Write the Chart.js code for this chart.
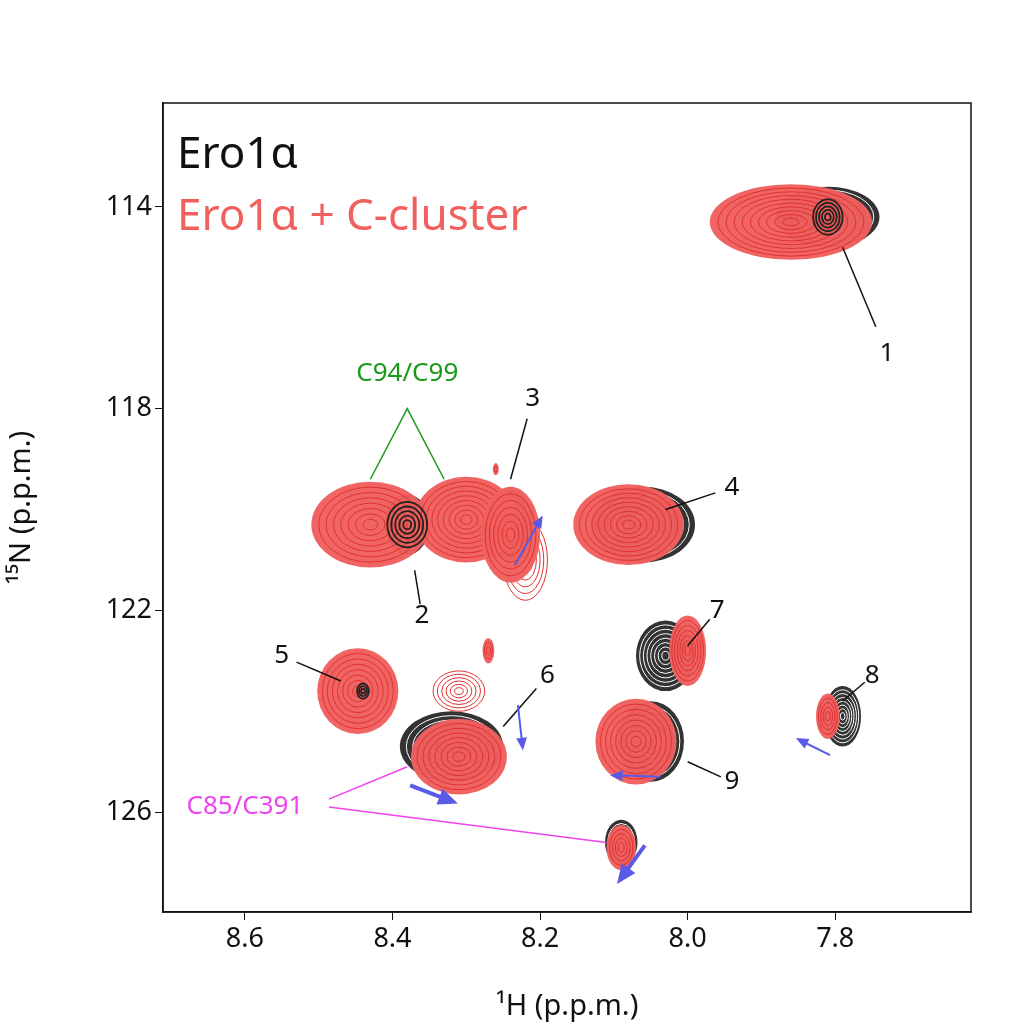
<!DOCTYPE html>
<html><head><meta charset="utf-8">
<script src="https://cdn.jsdelivr.net/npm/chart.js@4"></script>
<style>html,body{margin:0;background:#fff}#w{width:1024px;height:1028px}</style>
</head><body><div id="w"><canvas id="c"></canvas></div>
<script>
const xTicks=[8.6,8.4,8.2,8.0,7.8];
const yTicks=[114,118,122,126];
// black (Ero1a) peaks: [H, N, rH, rN, rings]
const blackPeaks=[[7.81,114.2,0.07,0.6,9],[8.38,120.3,0.03,0.6,6],[8.24,120.3,0.03,0.7,8],[8.06,120.3,0.07,0.75,9],[8.32,124.7,0.07,0.7,8],[8.03,122.9,0.04,0.7,8],[7.79,124.1,0.025,0.6,8],[8.05,124.6,0.045,0.8,8],[8.09,126.6,0.022,0.45,6]];
// red (Ero1a + C-cluster) peaks
const redPeaks=[[7.86,114.3,0.11,0.75,10],[8.43,120.3,0.08,0.85,8],[8.3,120.2,0.07,0.85,9],[8.24,120.5,0.04,0.95,7],[8.08,120.3,0.075,0.8,9],[8.447,123.6,0.055,0.85,8],[8.31,124.9,0.065,0.75,8],[8.0,122.8,0.025,0.7,7],[7.81,124.1,0.016,0.45,5],[8.07,124.6,0.055,0.85,8],[8.09,126.7,0.02,0.45,5],[8.27,122.8,0.008,0.25,3],[8.26,119.2,0.004,0.12,2]];
// red outline-only peaks
const redOutline=[[8.31,123.6,0.035,0.4,6],[8.22,121.0,0.03,0.8,6]];
const peakLabels=[["1",7.73,116.9,7.79,114.8],["2",8.36,122.1,8.37,121.2],["3",8.21,117.8,8.24,119.4],["4",7.94,119.56,8.03,120.0],["5",8.55,122.9,8.47,123.4],["6",8.19,123.3,8.25,124.3],["7",7.96,122.0,8.0,122.7],["8",7.75,123.3,7.79,123.8],["9",7.94,125.4,8.0,125.0]];
const arrows=[[8.234,121.1,8.2,120.21],[8.23,123.88,8.224,124.67],[8.376,125.47,8.322,125.77],[8.037,125.3,8.098,125.27],[7.807,124.87,7.847,124.58],[8.058,126.66,8.089,127.29]];
const extra={id:'extra',afterDatasetsDraw(ch){
 const c=ch.ctx,x=ch.scales.x,y=ch.scales.y,a=ch.chartArea;
 c.save();c.beginPath();c.rect(a.left,a.top,a.width,a.height);c.clip();
 const ell=(p,k)=>{const cx=x.getPixelForValue(p[0]),cy=y.getPixelForValue(p[1]);
   const rx=Math.abs(x.getPixelForValue(p[0]+p[2])-cx)*k,ry=Math.abs(y.getPixelForValue(p[1]+p[3])-cy)*k;
   c.beginPath();c.ellipse(cx,cy,rx,ry,0,0,Math.PI*2);};
 blackPeaks.forEach(p=>{c.fillStyle='#333';ell(p,1);c.fill();c.strokeStyle='#fff';c.lineWidth=1;for(let i=1;i<p[4];i++){ell(p,1-i/p[4]);c.stroke();}});
 redOutline.forEach(p=>{c.strokeStyle='#e0302e';c.lineWidth=1;for(let i=0;i<p[4];i++){ell(p,1-i/p[4]);c.stroke();}});
 redPeaks.forEach(p=>{c.fillStyle='rgba(240,96,94,0.97)';ell(p,1);c.fill();c.strokeStyle='#e0302e';c.lineWidth=1;for(let i=1;i<p[4];i++){ell(p,1-i/p[4]);c.stroke();}});
 [[8.38,120.3,0.027,0.45,5],[7.81,114.2,0.02,0.35,5],[8.44,123.6,0.008,0.15,3]].forEach(p=>{c.strokeStyle='#222';c.lineWidth=1.8;for(let i=0;i<p[4];i++){ell(p,1-i/p[4]);c.stroke();}});
 c.restore();
 c.font='26px "Noto Sans"';c.textAlign='center';c.textBaseline='middle';
 peakLabels.forEach(l=>{c.fillStyle='#111';c.fillText(l[0],x.getPixelForValue(l[1]),y.getPixelForValue(l[2]));
   c.strokeStyle='#111';c.lineWidth=1.5;c.beginPath();
   const lx=x.getPixelForValue(l[1]),ly=y.getPixelForValue(l[2]),tx=x.getPixelForValue(l[3]),ty=y.getPixelForValue(l[4]);
   c.moveTo(lx+(tx-lx)*0.25,ly+(ty-ly)*0.25);c.lineTo(tx,ty);c.stroke();});
 c.strokeStyle='#5a5ae8';c.fillStyle='#5a5ae8';
 arrows.forEach(r=>{const x0=x.getPixelForValue(r[0]),y0=y.getPixelForValue(r[1]),x1=x.getPixelForValue(r[2]),y1=y.getPixelForValue(r[3]);
   const big=r[1]>125.4;c.lineWidth=big?4:2;c.beginPath();c.moveTo(x0,y0);c.lineTo(x1,y1);c.stroke();
   const an=Math.atan2(y1-y0,x1-x0),h=big?14:9;c.beginPath();c.moveTo(x1+Math.cos(an)*h*0.6,y1+Math.sin(an)*h*0.6);
   c.lineTo(x1+Math.cos(an+2.5)*h,y1+Math.sin(an+2.5)*h);c.lineTo(x1+Math.cos(an-2.5)*h,y1+Math.sin(an-2.5)*h);c.fill();});
 c.fillStyle='#1a9a1a';c.strokeStyle='#1a9a1a';c.lineWidth=1.5;c.font='26px "Noto Sans"';
 const gx=x.getPixelForValue(8.38),gy=y.getPixelForValue(117.3);c.fillText('C94/C99',gx,gy);
 c.beginPath();c.moveTo(x.getPixelForValue(8.43),y.getPixelForValue(119.4));c.lineTo(x.getPixelForValue(8.38),y.getPixelForValue(118.0));c.lineTo(x.getPixelForValue(8.33),y.getPixelForValue(119.4));c.stroke();
 c.fillStyle='#ee44ee';c.strokeStyle='#ee44ee';
 const mx=x.getPixelForValue(8.6),my=y.getPixelForValue(125.9);c.fillText('C85/C391',mx,my);
 c.beginPath();c.moveTo(mx+84,my-8);c.lineTo(x.getPixelForValue(8.38),y.getPixelForValue(125.1));c.moveTo(mx+84,my);c.lineTo(x.getPixelForValue(8.11),y.getPixelForValue(126.6));c.stroke();
 c.textAlign='left';c.font='44px "Noto Sans"';c.fillStyle='#111';c.fillText('Ero1α',a.left+14,a.top+52);
 c.fillStyle='#f0605e';c.fillText('Ero1α + C-cluster',a.left+14,a.top+114);
}};
new Chart(document.getElementById('c'),{type:'scatter',data:{datasets:[{data:[],pointRadius:0}]},
options:{responsive:true,maintainAspectRatio:false,animation:false,layout:{padding:{top:103,right:53}},
plugins:{legend:{display:false},tooltip:{enabled:false}},
scales:{
 x:{type:'linear',reverse:true,min:7.616,max:8.711,afterBuildTicks:s=>{s.ticks=xTicks.map(v=>({value:v}))},afterFit:s=>{s.height=116},
  ticks:{color:'#111',font:{size:27,family:'Noto Sans'},callback:v=>v.toFixed(1)},grid:{drawOnChartArea:false,tickLength:8,color:'#111'},border:{color:'#111',width:1.5},
  title:{display:true,text:'¹H (p.p.m.)',color:'#111',font:{size:29,family:'Noto Sans'},padding:{top:0}}},
 y:{type:'linear',reverse:true,min:111.94,max:127.98,afterBuildTicks:s=>{s.ticks=yTicks.map(v=>({value:v}))},afterFit:s=>{s.width=163},
  ticks:{color:'#111',font:{size:27,family:'Noto Sans'}},grid:{drawOnChartArea:false,tickLength:8,color:'#111'},border:{color:'#111',width:1.5},
  title:{display:true,text:'¹⁵N (p.p.m.)',color:'#111',font:{size:29,family:'Noto Sans'}}}
}},plugins:[extra,{id:'box',afterDraw(ch){const a=ch.chartArea,c=ch.ctx;c.strokeStyle='#111';c.lineWidth=1.5;c.strokeRect(a.left,a.top,a.width,a.height);}}]});
</script></body></html>
